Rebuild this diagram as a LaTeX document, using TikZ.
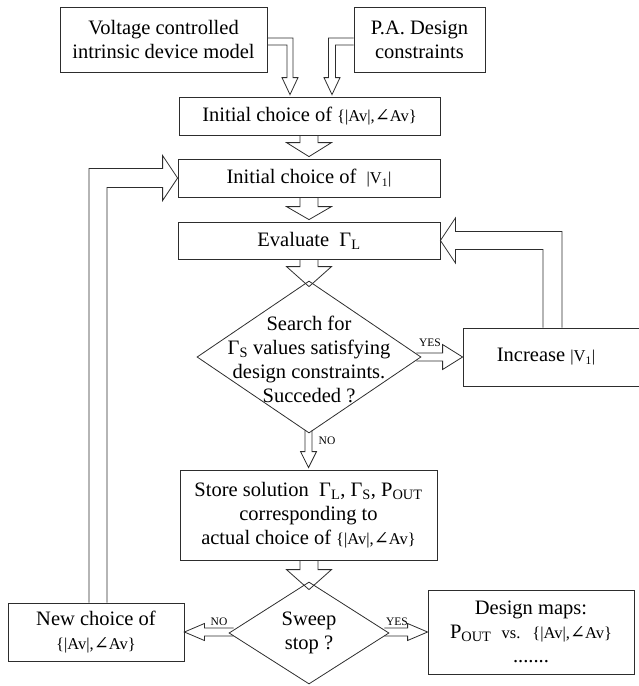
\documentclass[tikz,border=0pt]{standalone}
\usepackage{fontspec}
\setmainfont{Liberation Serif}
\newfontfamily\angfont{DejaVu Serif}
\usetikzlibrary{shapes.geometric,calc}
\definecolor{linec}{RGB}{45,45,45}
\newcommand\fs{\fontsize{20.5}{24}\selectfont}
\newcommand\sm{\fontsize{16.5}{20}\selectfont}
\newcommand\avset{{\sm\{|Av|,{\angfont\fontsize{18}{18}\selectfont ∠}Av\}}}
\newcommand\vone{{\sm|V\textsubscript{1}|}}
% vertical (downward) block arrow: src, dst, shaft half, head half, head length
\newcommand\vblk[5]{\draw[blk] let \p1=(#1), \p2=(#2) in
  (\x2-#3,\y1) -- (\x2-#3,\y2+#5) -- (\x2-#4,\y2+#5) -- (\x2,\y2) --
  (\x2+#4,\y2+#5) -- (\x2+#3,\y2+#5) -- (\x2+#3,\y1);}
% rightward block arrow
\newcommand\rblk[5]{\draw[blk] let \p1=(#1), \p2=(#2) in
  (\x1,\y2+#3) -- (\x2-#5,\y2+#3) -- (\x2-#5,\y2+#4) -- (\x2,\y2) --
  (\x2-#5,\y2-#4) -- (\x2-#5,\y2-#3) -- (\x1,\y2-#3);}
% leftward block arrow
\newcommand\lblk[5]{\draw[blk] let \p1=(#1), \p2=(#2) in
  (\x1,\y2+#3) -- (\x2+#5,\y2+#3) -- (\x2+#5,\y2+#4) -- (\x2,\y2) --
  (\x2+#5,\y2-#4) -- (\x2+#5,\y2-#3) -- (\x1,\y2-#3);}
\begin{document}
\begin{tikzpicture}[x=1pt,y=-1pt,
  box/.style={draw=linec,line width=0.8pt,inner sep=0pt,align=center,font=\fs},
  dia/.style={draw=linec,line width=0.8pt,diamond,inner sep=0pt},
  blk/.style={draw=linec,line width=0.8pt,line join=miter},
  txt/.style={font=\fs,align=center,inner sep=0pt},
  lbl/.style={font=\fontsize{11.5}{12}\selectfont,inner sep=0pt}]
\useasboundingbox (0,0) rectangle (639,686);
% boxes
\node[box,minimum width=207pt,minimum height=65pt] (b1) at (163.5,39.5) {Voltage controlled\\intrinsic device model};
\node[box,minimum width=131pt,minimum height=65pt] (b2) at (419.5,39.5) {P.A. Design\\constraints};
\node[box,minimum width=261pt,minimum height=38pt] (b3) at (309.5,116) {Initial choice of \avset};
\node[box,minimum width=262pt,minimum height=38pt] (b4) at (309,178) {Initial choice of~ \vone};
\node[box,minimum width=262pt,minimum height=37pt] (b5) at (309,240.5) {Evaluate~ Γ\textsubscript{L}};
\node[dia,minimum width=224pt,minimum height=152pt] (d1) at (309,357) {};
\node[txt] (t1) at (309,359) {Search for\\Γ\textsubscript{S} values satisfying\\design constraints.\\Succeded ?};
\node[box,minimum width=197pt,minimum height=58pt] (b7) at (561.5,357) {\hspace*{-31pt}Increase \vone};
\node[box,minimum width=257pt,minimum height=90pt] (b6) at (308.5,515) {Store solution~ Γ\textsubscript{L}, Γ\textsubscript{S}, P\textsubscript{OUT}\\corresponding to~\\actual choice of \avset};
\node[dia,minimum width=160pt,minimum height=102pt] (d2) at (309,633) {};
\node[txt] (t2) at (309,633) {Sweep\\stop ?};
\node[box,minimum width=176pt,minimum height=58pt] (b8) at (96,632) {New choice of\\\avset};
\node[box,minimum width=206pt,minimum height=84pt] (b9) at (531,632) {Design maps:\\P\textsubscript{OUT}~ {\sm vs.}~ \avset\\.......};
% labels
\node[lbl] (yes1) at (430,343) {YES};
\node[lbl] (no1) at (327,441) {NO};
\node[lbl] (no2) at (219,622) {NO};
\node[lbl] (yes2) at (397,622) {YES};
% top elbow arrows
\draw[blk] let \p1=($(b1.east)+(0,2)$), \p2=($(b3.north)+(-19.5,-2)$) in
  (\x1,\y1+3.5pt) -- (\x2+3pt,\y1+3.5pt) -- (\x2+3pt,\y2+17pt) -- (\x2+8pt,\y2+17pt) -- (\x2,\y2)
  -- (\x2-8pt,\y2+17pt) -- (\x2-3pt,\y2+17pt) -- (\x2-3pt,\y1-3.5pt) -- (\x1,\y1-3.5pt);
\draw[blk] let \p1=($(b2.west)+(0,2)$), \p2=($(b3.north)+(22.5,-2)$) in
  (\x1,\y1+3.5pt) -- (\x2-3.5pt,\y1+3.5pt) -- (\x2-3.5pt,\y2+17pt) -- (\x2-8pt,\y2+17pt) -- (\x2,\y2)
  -- (\x2+8pt,\y2+17pt) -- (\x2+3.5pt,\y2+17pt) -- (\x2+3.5pt,\y1-3.5pt) -- (\x1,\y1-3.5pt);
% straight down arrows
\vblk{b3.south}{$(b4.north)+(0,-2)$}{9pt}{22.5pt}{14pt}
\vblk{b4.south}{$(b5.north)+(0,-2)$}{9pt}{22.5pt}{13pt}
\vblk{b5.south}{$(d1.north)+(0,6)$}{9pt}{22.5pt}{20pt}
\vblk{$(d1.south)+(0,-3)$}{$(b6.north)+(0,-2)$}{3.5pt}{8pt}{16pt}
\vblk{b6.south}{$(d2.north)+(0,8)$}{9pt}{22.5pt}{20pt}
% side arrows
\rblk{$(d1.east)+(-5,0)$}{b7.west}{4pt}{12.5pt}{20pt}
\lblk{$(d2.west)+(5,0)$}{b8.east}{4pt}{8.5pt}{20pt}
\rblk{$(d2.east)+(-5,0)$}{b9.west}{4pt}{8.5pt}{20pt}
% right loop: Increase |V1| -> Evaluate
\draw[blk] let \p1=($(b7.north)+(-9,0)$), \p2=(b5.east) in
  (\x1+9.5pt,\y1) -- (\x1+9.5pt,\y2+9pt) -- (\x2+15pt,\y2+9pt) -- (\x2+15pt,\y2+22.5pt) -- (\x2,\y2)
  -- (\x2+15pt,\y2-22.5pt) -- (\x2+15pt,\y2-9pt) -- (\x1-9.5pt,\y2-9pt) -- (\x1-9.5pt,\y1);
% left loop: New choice -> Initial choice of |V1|
\draw[blk] let \p1=($(b8.north)+(2,0)$), \p2=(b4.west) in
  (\x1-9pt,\y1) -- (\x1-9pt,\y2+9.5pt) -- (\x2-15pt,\y2+9.5pt) -- (\x2-15pt,\y2+22.5pt) -- (\x2,\y2)
  -- (\x2-15pt,\y2-22.5pt) -- (\x2-15pt,\y2-9.5pt) -- (\x1+9pt,\y2-9.5pt) -- (\x1+9pt,\y1);
\end{tikzpicture}
\end{document}
